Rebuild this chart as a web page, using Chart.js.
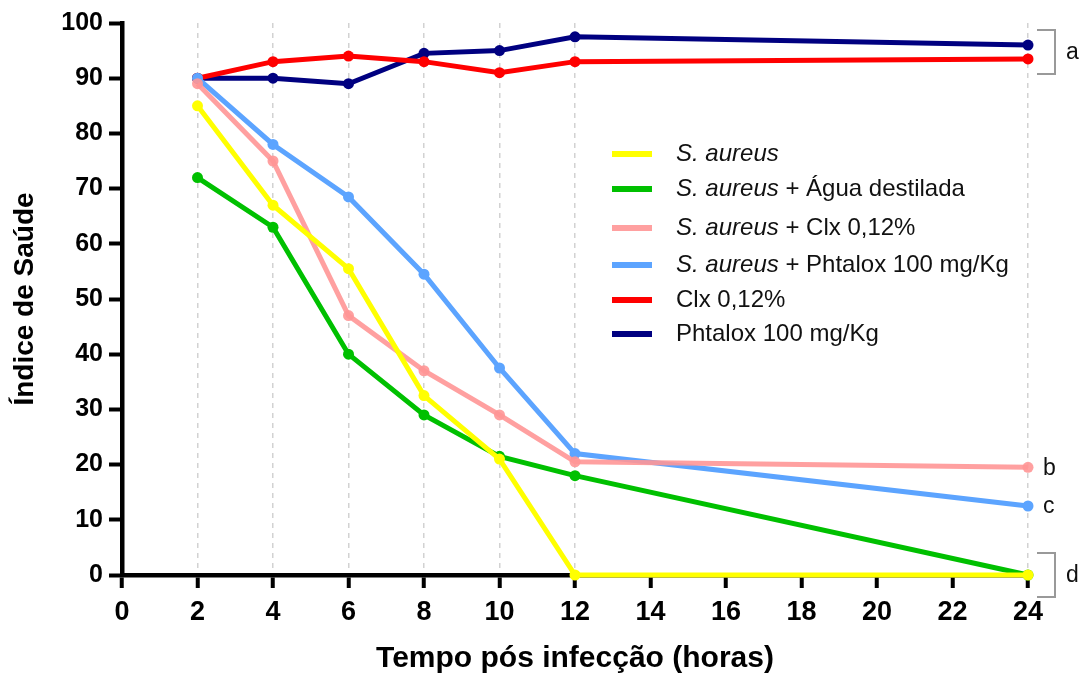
<!DOCTYPE html>
<html>
<head>
<meta charset="utf-8">
<script src="https://cdn.jsdelivr.net/npm/chart.js@4"></script>
<style>
  body { margin: 0; background: #fff; }
</style>
</head>
<body>
<canvas id="grafikSaude" width="1080" height="677"></canvas>
<script>
// data
const horas = [2, 4, 6, 8, 10, 12, 24];
const sAureus = [85, 67, 55.5, 32.5, 21, 0, 0];
const sAureusAgua = [72, 63, 40, 29, 21.5, 18, 0];
const sAureusClx = [89, 75, 47, 37, 29, 20.5, 19.5];
const sAureusPhtalox = [90, 78, 68.5, 54.5, 37.5, 22, 12.5];
const clx = [90, 93, 94, 93, 91, 93, 93.5];
const phtalox = [90, 90, 89, 94.5, 95, 97.5, 96];

const seriesNames = [
    'S. aureus',
    'S. aureus + Água destilada',
    'S. aureus + Clx 0,12%',
    'S. aureus + Phtalox 100 mg/Kg',
    'Clx 0,12%',
    'Phtalox 100 mg/Kg'
];
const seriesValues = [sAureus, sAureusAgua, sAureusClx, sAureusPhtalox, clx, phtalox];
const seriesColors = ['#ffff00', '#00c000', 'rgba(255,150,150,0.9)', '#5ca4ff', '#ff0000', '#000080'];
const gridHoras = [2, 4, 6, 8, 10, 12, 24];

// huruf signifikansi: huruf + dataset yang dikelompokkan
const letterGroups = [
    { letter: 'a', sets: [4, 5], bracket: true, pad: 15 },
    { letter: 'b', sets: [2], bracket: false },
    { letter: 'c', sets: [3], bracket: false },
    { letter: 'd', sets: [0, 1], bracket: true, pad: 22 }
];

const datasets = seriesValues.map((vals, i) => ({
    label: seriesNames[i],
    data: horas.map((h, j) => ({ x: h, y: vals[j] })),
    borderColor: seriesColors[i],
    backgroundColor: seriesColors[i],
    pointBackgroundColor: seriesColors[i],
    borderWidth: 5,
    pointRadius: 5.5,
    pointBorderWidth: 0,
    tension: 0,
    clip: false
}));

const fontLegend = '"Liberation Sans", Arial, sans-serif';

// legend custom (ada teks miring)
const legendPlugin = {
    id: 'legendKustom',
    afterDraw(chart) {
        const c = chart.ctx;
        const rowsY = [154, 189, 228, 265, 300, 334];
        c.save();
        c.textBaseline = 'middle';
        seriesNames.forEach((name, i) => {
            const y = rowsY[i];
            c.fillStyle = seriesColors[i];
            c.fillRect(612, y - 3, 40, 6);
            let x = 676;
            c.fillStyle = '#111';
            if (name.startsWith('S. aureus')) {
                c.font = 'italic 24px ' + fontLegend;
                c.fillText('S. aureus', x, y);
                x += c.measureText('S. aureus').width;
                c.font = '24px ' + fontLegend;
                c.fillText(name.slice(9), x, y);
            } else {
                c.font = '24px ' + fontLegend;
                c.fillText(name, x, y);
            }
        });
        c.restore();
    }
};

// kurung dan huruf di kanan
const letterPlugin = {
    id: 'hurufKanan',
    afterDraw(chart) {
        const c = chart.ctx;
        const yScale = chart.scales.y;
        const xEnd = chart.scales.x.getPixelForValue(24);
        const last = horas.length - 1;
        c.save();
        c.strokeStyle = '#999';
        c.lineWidth = 2;
        c.fillStyle = '#111';
        c.font = '23px ' + fontLegend;
        c.textBaseline = 'middle';
        letterGroups.forEach(g => {
            const vals = g.sets.map(s => seriesValues[s][last]);
            const yTop = yScale.getPixelForValue(Math.max(...vals));
            const yBot = yScale.getPixelForValue(Math.min(...vals));
            const yMid = (yTop + yBot) / 2;
            if (g.bracket) {
                c.beginPath();
                c.moveTo(xEnd + 9, yTop - g.pad);
                c.lineTo(xEnd + 27, yTop - g.pad);
                c.lineTo(xEnd + 27, yBot + g.pad);
                c.lineTo(xEnd + 9, yBot + g.pad);
                c.stroke();
                c.fillText(g.letter, xEnd + 38, yMid + 1);
            } else {
                c.fillText(g.letter, xEnd + 15, yMid + 1);
            }
        });
        c.restore();
    }
};

const ctx = document.getElementById('grafikSaude').getContext('2d');
const grafik = new Chart(ctx, {
    type: 'line',
    data: { datasets: datasets },
    plugins: [legendPlugin, letterPlugin],
    options: {
        responsive: false,
        animation: false,
        layout: { padding: { top: 23, right: 52, left: 0, bottom: 0 } },
        plugins: {
            legend: { display: false },
            tooltip: { enabled: false }
        },
        scales: {
            x: {
                type: 'linear',
                min: 0,
                max: 24,
                afterFit: s => { s.height = 102; },
                ticks: {
                    stepSize: 2,
                    color: '#000',
                    padding: 8,
                    font: { family: '"Liberation Sans", Arial', size: 27, weight: 'bold' }
                },
                grid: {
                    color: c => gridHoras.includes(c.tick && c.tick.value) ? '#d2d2d2' : 'rgba(0,0,0,0)',
                    lineWidth: 1.5,
                    tickColor: '#000',
                    tickWidth: 4,
                    tickLength: 13,
                    tickBorderDash: []
                },
                border: { color: '#000', width: 4.5, dash: [5, 5] },
                title: {
                    display: true,
                    text: 'Tempo pós infecção (horas)',
                    color: '#000',
                    padding: { top: 0, bottom: 0 },
                    font: { family: '"Liberation Sans", Arial', size: 30, weight: 'bold' }
                }
            },
            y: {
                min: 0,
                max: 100,
                afterFit: s => { s.width = 122; },
                ticks: {
                    stepSize: 10,
                    color: '#000',
                    padding: 6,
                    font: { family: '"Liberation Sans", Arial', size: 25, weight: 'bold' }
                },
                grid: {
                    drawOnChartArea: false,
                    tickColor: '#000',
                    tickWidth: 4,
                    tickLength: 13
                },
                border: { color: '#000', width: 4.5 },
                title: {
                    display: true,
                    text: 'Índice de Saúde',
                    color: '#000',
                    padding: { top: 8, bottom: 0 },
                    font: { family: '"Liberation Sans", Arial', size: 28, weight: 'bold' }
                }
            }
        }
    }
});
</script>
</body>
</html>
